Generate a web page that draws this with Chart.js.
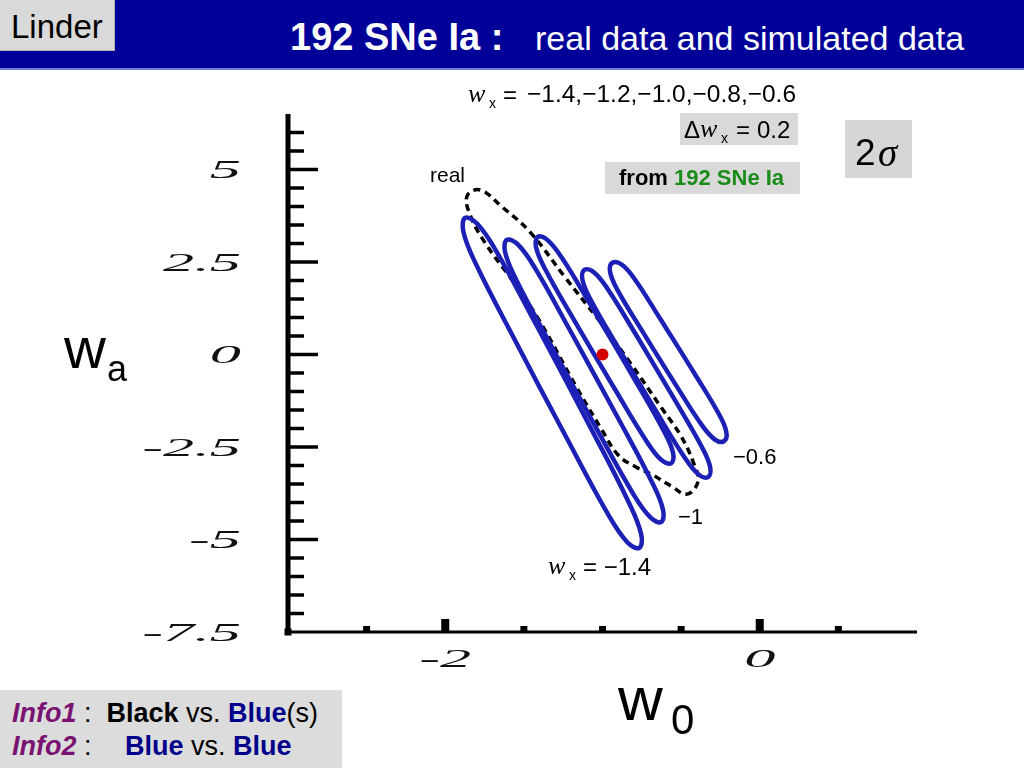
<!DOCTYPE html>
<html>
<head>
<meta charset="utf-8">
<script src="https://cdn.jsdelivr.net/npm/chart.js@4.4.0/dist/chart.umd.min.js"></script>
<style>
  body { margin: 0; width: 1024px; height: 768px; position: relative; overflow: hidden; background: #fff;
         font-family: "Liberation Sans", Arial, sans-serif; color: #000; }
  #plot { position: absolute; left: 0; top: 0; }
  .t { position: absolute; line-height: 1; white-space: nowrap; }
  .box { position: absolute; }
  .serif { font-family: "Liberation Serif", "Times New Roman", serif; font-style: italic; }
  #banner { left: 0; top: 0; width: 1024px; height: 68px; background: #000099; }
  #bannerEdge { left: 0; top: 68px; width: 1024px; height: 2px; background: #6f7fcf; }
  #linder { left: 0; top: 0; width: 114px; height: 50px; background: #d9d9d9; border-right: 1px solid #b0b0b0; border-bottom: 1px solid #b0b0b0; }
  .grey { background: #d9d9d9; }
  .purple { color: #7a1272; font-weight: bold; font-style: italic; }
  .navy { color: #00008b; font-weight: bold; }
</style>
</head>
<body>
<canvas id="plot" width="1024" height="768"></canvas>

<div class="box" id="banner"></div>
<div class="box" id="bannerEdge"></div>
<div class="box" id="linder"></div>
<div class="t" style="left:11px; top:10px; font-size:33px;">Linder</div>
<div class="t" style="left:290px; top:18px; font-size:38px; font-weight:bold; color:#fff;">192 SNe Ia :</div>
<div class="t" style="left:535px; top:21px; font-size:34px; color:#fff;">real data and simulated data</div>

<!-- annotations -->
<div class="t serif" style="left:468px; top:81px; font-size:26px;">w</div>
<div class="t" style="left:489px; top:96px; font-size:14px;">x</div>
<div class="t" style="left:503px; top:83px; font-size:24px;">=</div>
<div class="t" id="wxList" style="left:527px; top:82px; font-size:24.5px;"></div>

<div class="box grey" style="left:680px; top:113px; width:118px; height:32px;"></div>
<div class="t" style="left:684px; top:118px; font-size:24px;">&Delta;</div>
<div class="t serif" style="left:700px; top:116px; font-size:26px;">w</div>
<div class="t" style="left:721px; top:131px; font-size:14px;">x</div>
<div class="t" style="left:736px; top:118px; font-size:24px;">=</div>
<div class="t" style="left:757px; top:118px; font-size:24px;">0.2</div>

<div class="box grey" style="left:605px; top:162px; width:195px; height:32px;"></div>
<div class="t" style="left:619px; top:167px; font-size:22px; font-weight:bold;">from <span style="color:#1a8c1a;">192 SNe Ia</span></div>

<div class="box" style="left:845px; top:120px; width:67px; height:58px; background:#d6d6d6;"></div>
<div class="t" style="left:855px; top:134px; font-size:37px;">2</div>
<div class="t serif" style="left:878px; top:133px; font-size:39px;">&sigma;</div>

<div class="t" style="left:430px; top:164px; font-size:21px;">real</div>
<div class="t" style="left:733px; top:446px; font-size:22px;">&minus;0.6</div>
<div class="t" style="left:678px; top:506px; font-size:22px;">&minus;1</div>
<div class="t serif" style="left:548px; top:553px; font-size:26px;">w</div>
<div class="t" style="left:569px; top:568px; font-size:14px;">x</div>
<div class="t" style="left:583px; top:555px; font-size:24px;">= &minus;1.4</div>

<!-- axis titles -->
<div class="t" style="left:64px; top:319px; font-size:58px;">w</div>
<div class="t" style="left:107px; top:351px; font-size:36px;">a</div>
<div class="t" style="left:618px; top:668px; font-size:62px;">w</div>
<div class="t" style="left:671px; top:699px; font-size:42px;">0</div>

<!-- info box -->
<div class="box" style="left:0; top:690px; width:342px; height:78px; background:#dcdcdc;"></div>
<div class="t" style="left:12px; top:700px; font-size:27px;"><span class="purple">Info1</span> :&nbsp; <b>Black</b> vs. <span class="navy">Blue</span>(s)</div>
<div class="t" style="left:12px; top:733px; font-size:27px;"><span class="purple">Info2</span> :</div>
<div class="t" style="left:125px; top:733px; font-size:27px;"><span class="navy">Blue</span> vs. <span class="navy">Blue</span></div>

<script>
/* ---------------- DATA ---------------- */
const xRange = [-3, 1];
const yRange = [-7.5, 6.5];

const xMajorTicks = [-2, 0];
const xMinorTicks = [-2.5, -1.5, -1, -0.5, 0.5];
const yMajorTicks = [-5, -2.5, 0, 2.5, 5];
const yMinorTicks = [-7, -6.5, -6, -5.5, -4.5, -4, -3.5, -3, -2, -1.5, -1, -0.5,
                     0.5, 1, 1.5, 2, 3, 3.5, 4, 4.5, 5.5, 6];

const xLabelValues = [-2, 0];
const xLabelText = ["-2", "0"];
const yLabelValues = [5, 2.5, 0, -2.5, -5, -7.5];
const yLabelText = ["5", "2.5", "0", "-2.5", "-5", "-7.5"];

const wxValues = ["\u22121.4", "\u22121.2", "\u22121.0", "\u22120.8", "\u22120.6"];

// fiducial model (red dot)
const fiducial = [[-1, 0]];

// 2 sigma contours of the simulated data (blue), left to right
const simLoop1 = [[-1.413, 0.736], [-1.080, -1.943], [-0.832, -4.008], [-0.754, -4.860], [-0.766, -5.229],
  [-0.844, -5.065], [-0.966, -4.310], [-1.226, -2.272], [-1.559, 0.407], [-1.808, 2.472],
  [-1.885, 3.323], [-1.873, 3.693], [-1.795, 3.526], [-1.673, 2.774], [-1.413, 0.736]];
const simLoop2 = [[-1.198, 0.588], [-0.903, -1.704], [-0.683, -3.472], [-0.615, -4.202], [-0.627, -4.528],
  [-0.697, -4.396], [-0.806, -3.757], [-1.036, -2.016], [-1.331, 0.275], [-1.551, 2.040],
  [-1.620, 2.774], [-1.608, 3.100], [-1.537, 2.968], [-1.428, 2.326], [-1.198, 0.588]];
const simLoop3 = [[-1.054, 1.189], [-0.800, -0.644], [-0.610, -2.067], [-0.551, -2.660], [-0.563, -2.938],
  [-0.626, -2.849], [-0.720, -2.342], [-0.920, -0.946], [-1.175, 0.887], [-1.365, 2.310],
  [-1.423, 2.903], [-1.411, 3.181], [-1.349, 3.092], [-1.254, 2.585], [-1.054, 1.189]];
const simLoop4 = [[-0.779, 0.480], [-0.544, -1.202], [-0.368, -2.501], [-0.315, -3.051], [-0.329, -3.315],
  [-0.390, -3.240], [-0.478, -2.782], [-0.663, -1.504], [-0.899, 0.178], [-1.075, 1.477],
  [-1.128, 2.030], [-1.114, 2.291], [-1.053, 2.218], [-0.965, 1.757], [-0.779, 0.480]];
const simLoop5 = [[-0.630, 0.946], [-0.417, -0.501], [-0.258, -1.623], [-0.212, -2.105], [-0.228, -2.345],
  [-0.285, -2.299], [-0.367, -1.914], [-0.535, -0.814], [-0.747, 0.633], [-0.906, 1.755],
  [-0.952, 2.237], [-0.937, 2.480], [-0.878, 2.431], [-0.797, 2.046], [-0.630, 0.946]];

// 2 sigma contour of the real 192 SNe Ia (black dashed)
const realLoop = [[-1.025, 0.943], [-0.816, -0.270], [-0.627, -1.429], [-0.500, -2.210], [-0.418, -2.965],
  [-0.392, -3.423], [-0.462, -3.774], [-0.563, -3.558], [-0.690, -3.235], [-0.785, -3.046],
  [-0.899, -2.722], [-1.006, -2.022], [-1.165, -0.889], [-1.405, 0.943], [-1.563, 1.941],
  [-1.747, 3.019], [-1.842, 3.774], [-1.861, 4.286], [-1.778, 4.447], [-1.639, 3.989],
  [-1.462, 3.315], [-1.241, 2.102], [-1.025, 0.943]];

/* ---------------- HELPERS ---------------- */
const toPts = arr => arr.map(([x, y]) => ({ x, y }));
const BLUE = "#1d20b4";

document.getElementById("wxList").textContent = wxValues.join(",");

const loop = (pts, color, width, dash) => ({
  data: toPts(pts),
  showLine: true,
  pointRadius: 0,
  borderColor: color,
  borderWidth: width,
  borderDash: dash || [],
  tension: 0.4,
  fill: false
});

/* ---------------- AXES (ticks drawn inside, stretched labels) ---------------- */
const axisPainter = {
  id: "axisPainter",
  beforeDatasetsDraw(chart) {
    const { ctx } = chart;
    const xs = chart.scales.x, ys = chart.scales.y;
    const x0 = xs.getPixelForValue(xRange[0]);
    const x1 = xs.getPixelForValue(xRange[1]);
    const yb = ys.getPixelForValue(yRange[0]);
    const yt = ys.getPixelForValue(yRange[1]);
    ctx.save();
    ctx.fillStyle = "#000";
    // axis lines
    ctx.fillRect(x0 - 2.5, yt, 5, yb - yt + 1.5);
    ctx.fillRect(x0 - 2, yb - 1.5, x1 - x0 + 2, 3);
    ctx.fillRect(x0 - 3.5, yb - 3.5, 7, 7);
    // y ticks
    yMajorTicks.forEach(v => ctx.fillRect(x0, ys.getPixelForValue(v) - 1.75, 30, 3.5));
    yMinorTicks.forEach(v => ctx.fillRect(x0, ys.getPixelForValue(v) - 1.75, 16, 3.5));
    // x ticks
    xMajorTicks.forEach(v => ctx.fillRect(xs.getPixelForValue(v) - 4, yb - 13, 8, 13));
    xMinorTicks.forEach(v => ctx.fillRect(xs.getPixelForValue(v) - 3.5, yb - 6, 7, 6));

    // tick labels
    ctx.fillStyle = "#111";
    ctx.font = 'italic 26px "Liberation Serif"';
    ctx.textBaseline = "middle";
    yLabelValues.forEach((v, i) => {
      ctx.save();
      ctx.translate(241, ys.getPixelForValue(v) + 2);
      ctx.scale(2.4, 1);
      ctx.textAlign = "right";
      ctx.fillText(yLabelText[i], 0, 0);
      ctx.restore();
    });
    xLabelValues.forEach((v, i) => {
      ctx.save();
      ctx.translate(xs.getPixelForValue(v), 660);
      ctx.scale(2.4, 1);
      ctx.textAlign = "center";
      ctx.fillText(xLabelText[i], 0, 0);
      ctx.restore();
    });
    ctx.restore();
  }
};

/* ---------------- CHART ---------------- */
new Chart(document.getElementById("plot").getContext("2d"), {
  type: "scatter",
  data: {
    datasets: [
      { data: toPts(fiducial), pointRadius: 6, pointBackgroundColor: "#d40000", pointBorderWidth: 0, showLine: false },
      loop(simLoop1, BLUE, 4.5),
      loop(simLoop2, BLUE, 4.5),
      loop(simLoop3, BLUE, 4.5),
      loop(simLoop4, BLUE, 4.5),
      loop(simLoop5, BLUE, 4.5),
      loop(realLoop, "#000", 3.5, [7, 5])
    ]
  },
  options: {
    responsive: false,
    animation: false,
    devicePixelRatio: 1,
    layout: { padding: { left: 288, right: 107, top: 114, bottom: 136 } },
    plugins: { legend: { display: false }, tooltip: { enabled: false } },
    scales: {
      x: { type: "linear", display: false, min: xRange[0], max: xRange[1] },
      y: { type: "linear", display: false, min: yRange[0], max: yRange[1] }
    }
  },
  plugins: [axisPainter]
});
</script>
</body>
</html>
